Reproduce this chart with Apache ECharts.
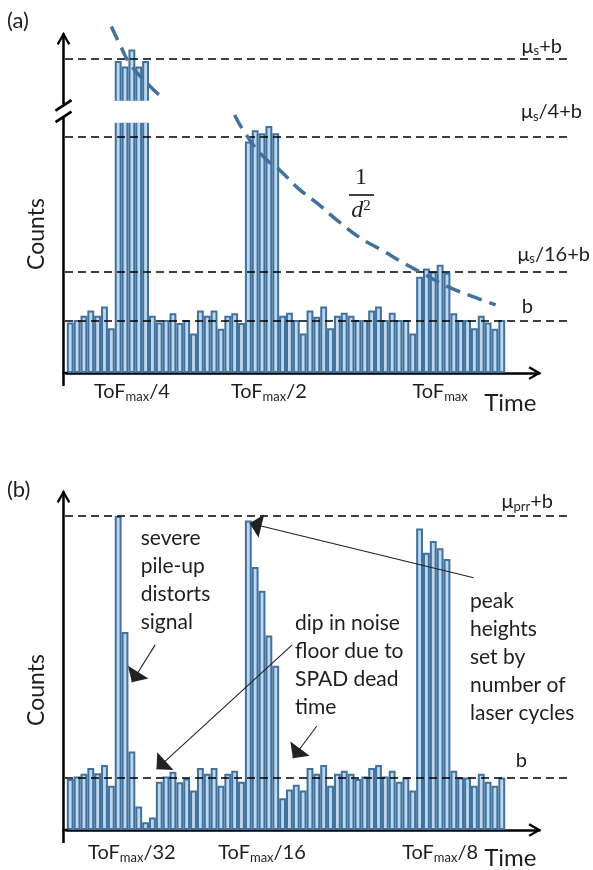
<!DOCTYPE html>
<html>
<head>
<meta charset="utf-8">
<title>ToF histograms</title>
<script src="https://cdn.jsdelivr.net/npm/echarts@6/dist/echarts.min.js"></script>
<style>
  html, body { margin: 0; padding: 0; background: #fff; }
  #chart { width: 593px; height: 870px; }
</style>
</head>
<body>
<div id="chart"></div>
<script>
// ---- data (counts per time bin) ----
const NCAT = 69; // 64 filled bins + room for the axis arrow
const bins = Array.from({ length: NCAT }, (_, i) => String(i + 1));

const countsA = [97, 102, 110, 120, 110, 128, 86, 1511, 1500, 1533, 1500, 1511, 110, 97, 102, 115, 96, 102, 76, 120, 110, 120, 85, 110, 115, 96,
  445, 467, 461, 475, 461, 110, 116, 102, 76, 120, 108, 128, 86, 110, 116, 110, 102, 102, 120, 128, 102, 116, 102, 102, 76,
  185, 201, 195, 208, 193, 115, 102, 102, 86, 110, 97, 85, 102];

const countsB = [98, 103, 108, 119, 109, 125, 85, 604, 381, 151, 45, 15, 24, 93, 103, 112, 92, 99, 76, 119, 108, 119, 85, 108, 114, 93,
  595, 506, 460, 374, 316, 61, 78, 87, 76, 119, 108, 125, 85, 108, 114, 108, 98, 103, 119, 125, 103, 114, 93, 101, 76,
  580, 533, 556, 542, 521, 114, 101, 101, 85, 108, 93, 85, 101];

// reference levels
const levelsA = [100, 195, 454];
const levelNamesA = ['b', 'μ{s|s}/16+b', 'μ{s|s}/4+b'];
const topLevelA = 1516;
const topLevelNameA = 'μ{s|s}+b';
const levelsB = [100, 604];
const levelNamesB = ['b', 'μ{s|prr}+b'];

// tick labels (bin index -> text)
const tickBinsA = [9, 29, 54];
const tickTextA = ['ToF{s|max}/4', 'ToF{s|max}/2', 'ToF{s|max}'];
const tickBinsB = [9, 28, 54];
const tickTextB = ['ToF{s|max}/32', 'ToF{s|max}/16', 'ToF{s|max}/8'];

// 1/d^2 guide curve, [bin, counts], above and below the axis break
const curveTop = [[6.5, 1577], [7.8, 1541], [9.2, 1506], [11.7, 1468], [14.3, 1436]];
const curveBottom = [[24.5, 496], [25.9, 464], [28.7, 416], [31.1, 390], [33.7, 356], [36.5, 327], [39.9, 289],
  [42.8, 260], [45.9, 237], [49.1, 212], [52.3, 189], [55.6, 166], [59.3, 147], [62.6, 131]];

// annotation arrows in panel (b), [from, to] as [bin, counts]
const arrowsB = [
  [[12.9, 356], [9.5, 284]],
  [[32.9, 356], [13.1, 117]],
  [[36.5, 200], [33.0, 138]],
  [[59.4, 485], [26.7, 590]]
];

// ---- layout / style ----
const FONT = 'Lato';
const INK = '#1e1e1e';
const BAR_FILL = '#bdd7ee';
const BAR_EDGE = '#41719c';

const GL = 66.8;                 // left edge of first bin
const PITCH = 6.85;              // px per bin
const GW = NCAT * PITCH;
const K = 0.52;                  // px per count
const AX_X = GL - 3.3;           // y axis line x

const A_TOP = 34, A_HI = 101.7, A_LO = 121.7, A_BASE = 373;
const B_TOP = 492, B_BASE = 830;
const BREAK_MIN = 1432.5;        // counts at bottom of upper strip

const LINE_X0 = 65, LINE_X1 = 570;
const CHEVRON = 'path://M0,86 L50,0 L100,86 L86,96 L50,34 L14,96 Z';
const HEAD = 'path://M5,-12 L5,-12 Z M5,0 L10,12 L0,12 Z';

const RICH = {
  s: { fontSize: 13, fontFamily: FONT, color: INK, padding: [9, 0, 0, 0] }
};

const axisStroke = { color: '#000', width: 2.5 };

function levelLines(values, names, shifts) {
  return values.map((v, i) => [
    { yAxis: v, x: LINE_X0, label: { formatter: names[i], distance: shifts[i] } },
    { yAxis: v, x: LINE_X1 }
  ]);
}

function markLineOf(data) {
  return {
    silent: true,
    symbol: 'none',
    animation: false,
    lineStyle: { color: '#000', width: 1.5, type: [8, 5] },
    label: { position: 'insideEndTop', fontSize: 20, fontFamily: FONT, color: INK, rich: RICH },
    data
  };
}

function barSeries(xi, yi, data, markLine) {
  return {
    type: 'bar',
    xAxisIndex: xi,
    yAxisIndex: yi,
    data,
    barWidth: PITCH,
    barGap: 0,
    barCategoryGap: 0,
    large: false,
    clip: true,
    itemStyle: { color: BAR_FILL, borderColor: BAR_EDGE, borderWidth: 2 },
    emphasis: { disabled: true },
    markLine
  };
}

function catAxis(gridIndex, ticks, texts, margin, namePad) {
  const show = ticks != null;
  return {
    gridIndex,
    type: 'category',
    data: bins,
    show,
    axisLine: {
      show, onZero: false,
      symbol: ['none', CHEVRON], symbolSize: [15, 13], symbolOffset: [0, -4.5],
      lineStyle: axisStroke
    },
    axisTick: { show: false },
    splitLine: { show: false },
    axisLabel: show ? {
      interval: (i) => ticks.includes(i),
      formatter: (v, i) => {
        const k = ticks.indexOf(i);
        return k >= 0 ? texts[k] : '';
      },
      fontSize: 20, fontFamily: FONT, color: INK, margin, rich: RICH
    } : { show: false },
    name: show ? 'Time' : '',
    nameLocation: 'end',
    nameGap: -3,
    nameMoveOverlap: false,
    nameTextStyle: { fontSize: 24, fontFamily: FONT, color: INK, align: 'right', verticalAlign: 'top', padding: [namePad || 0, 0, 0, 0] }
  };
}

function binAxis(gridIndex) {
  return { gridIndex, type: 'value', min: 0, max: NCAT, show: false, splitLine: { show: false } };
}

function valAxis(gridIndex, min, max, arrow) {
  return {
    gridIndex, type: 'value', min, max, offset: GL - AX_X,
    axisLine: {
      show: true, onZero: false,
      symbol: arrow ? ['none', CHEVRON] : 'none', symbolSize: [15, 13], symbolOffset: [0, -4.5],
      lineStyle: axisStroke
    },
    axisTick: { show: false }, axisLabel: { show: false }, splitLine: { show: false }
  };
}

function seg(x1, y1, x2, y2, w) {
  return { type: 'line', z: 20, silent: true, shape: { x1, y1, x2, y2 }, style: { stroke: '#000', lineWidth: w || 2.5 } };
}

function txt(x, y, text, font, align) {
  const a = align || 'left';
  return {
    type: 'text', x, y, z: 20, silent: true,
    style: { text, font, fill: INK, align: a, verticalAlign: 'middle', textAlign: a, textVerticalAlign: 'middle' }
  };
}

function note(x, yFirst, text) {
  return {
    type: 'text', x, y: yFirst - 14, z: 20, silent: true,
    style: { text, font: '21px ' + FONT, fill: INK, lineHeight: 28, align: 'left', verticalAlign: 'top', textAlign: 'left', textVerticalAlign: 'top' }
  };
}

const countsLabelA = Object.assign(txt(37, 234, 'Counts', '23px ' + FONT, 'center'), { rotation: Math.PI / 2 });
const countsLabelB = Object.assign(txt(37, 690, 'Counts', '23px ' + FONT, 'center'), { rotation: Math.PI / 2 });

const graphics = [
  // cover the clipped bar edges in the axis break
  { type: 'rect', z: 10, silent: true, shape: { x: GL + 7 * PITCH - 2, y: A_HI - 1, width: 5 * PITCH + 4, height: A_LO - A_HI + 2 }, style: { fill: '#fff' } },
  // axis break marks
  seg(AX_X, A_HI, AX_X, A_HI + 3),
  seg(AX_X, A_LO - 5, AX_X, A_LO),
  seg(AX_X - 8, A_HI + 9, AX_X + 8, A_HI - 1.5, 2.8),
  seg(AX_X - 8, A_LO + 0.5, AX_X + 8, A_LO - 10, 2.8),
  // axis corners
  seg(AX_X, A_BASE, AX_X, A_BASE + 13),
  seg(AX_X - 1.25, A_BASE, GL + 1, A_BASE),
  seg(AX_X, B_BASE, AX_X, B_BASE + 13),
  seg(AX_X - 1.25, B_BASE, GL + 1, B_BASE),
  // panel letters and axis titles
  txt(7, 21, '(a)', '22px ' + FONT),
  txt(7, 490, '(b)', '22px ' + FONT),
  countsLabelA,
  countsLabelB,
  // 1/d^2
  txt(361, 178, '1', '24px "Liberation Serif"', 'center'),
  seg(349, 195, 374, 195, 1.5),
  {
    type: 'text', x: 361, y: 211, z: 20, silent: true,
    style: {
      text: '{d|d}{p|2}', fill: INK, align: 'center', verticalAlign: 'middle', textAlign: 'center', textVerticalAlign: 'middle',
      rich: {
        d: { font: 'italic 24px "Liberation Serif"', fill: INK },
        p: { font: '15px "Liberation Serif"', fill: INK, padding: [0, 0, 10, 0] }
      }
    }
  },
  // notes in panel (b)
  note(140.7, 538.3, 'severe\npile-up\ndistorts\nsignal'),
  note(295, 623.3, 'dip in noise\nfloor due to\nSPAD dead\ntime'),
  note(470, 601, 'peak\nheights\nset by\nnumber of\nlaser cycles')
];

const option = {
  animation: false,
  backgroundColor: '#fff',
  textStyle: { fontFamily: FONT },
  grid: [
    { left: GL, top: A_TOP, width: GW, height: A_HI - A_TOP, outerBoundsMode: 'none' },
    { left: GL, top: A_LO, width: GW, height: A_BASE - A_LO, outerBoundsMode: 'none' },
    { left: GL, top: B_TOP, width: GW, height: B_BASE - B_TOP, outerBoundsMode: 'none' }
  ],
  xAxis: [
    catAxis(0, null),
    binAxis(0),
    catAxis(1, tickBinsA, tickTextA, 8, 18),
    binAxis(1),
    catAxis(2, tickBinsB, tickTextB, 12, 16),
    binAxis(2)
  ],
  yAxis: [
    valAxis(0, BREAK_MIN, BREAK_MIN + (A_HI - A_TOP) / K, true),
    valAxis(1, 0, (A_BASE - A_LO) / K, false),
    valAxis(2, 0, (B_BASE - B_TOP) / K, true)
  ],
  series: [
    barSeries(0, 0, countsA, markLineOf(levelLines([topLevelA], [topLevelNameA], [[8, 1]]))),
    {
      type: 'line', xAxisIndex: 1, yAxisIndex: 0, data: curveTop, smooth: true, symbol: 'none', clip: false,
      lineStyle: { color: BAR_EDGE, width: 3.5, type: [15, 8] }, z: 5
    },
    barSeries(2, 1, countsA, markLineOf(levelLines(levelsA, levelNamesA, [[37, 4], [-20, 6], [-12, 14]]))),
    {
      type: 'line', xAxisIndex: 3, yAxisIndex: 1, data: curveBottom, smooth: true, symbol: 'none', clip: false,
      lineStyle: { color: BAR_EDGE, width: 3.5, type: [15, 8] }, z: 5
    },
    barSeries(4, 2, countsB, markLineOf(levelLines(levelsB, levelNamesB, [[43, 7], [17, 3]]))),
    {
      type: 'lines', coordinateSystem: 'cartesian2d', xAxisIndex: 5, yAxisIndex: 2, z: 6,
      symbol: ['none', HEAD], symbolSize: [9, 24],
      lineStyle: { color: '#222', width: 1.1, opacity: 1, curveness: 0 },
      data: arrowsB.map(a => ({ coords: a }))
    }
  ],
  graphic: { elements: graphics }
};

const chart = echarts.init(document.getElementById('chart'));
chart.setOption(option);
</script>
</body>
</html>
